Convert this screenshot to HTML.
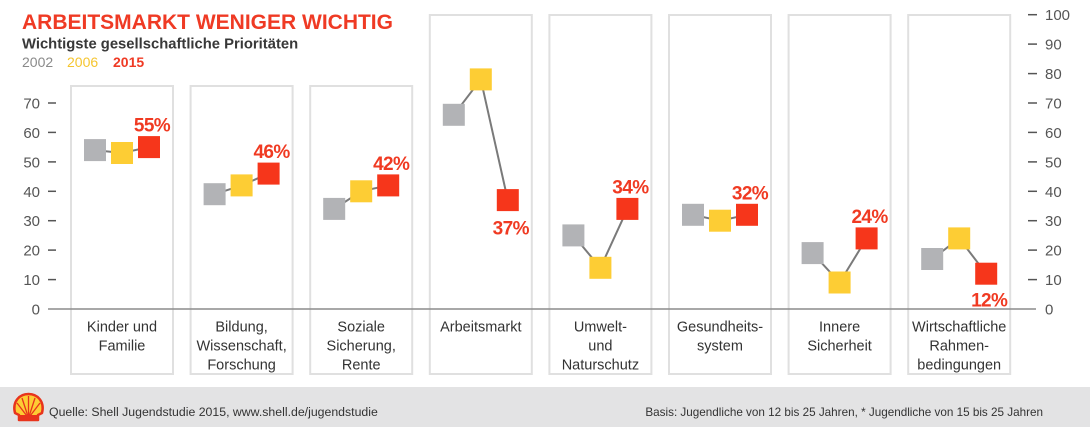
<!DOCTYPE html>
<html><head><meta charset="utf-8"><style>
html,body{margin:0;padding:0;background:#fff;}
svg{display:block;}
text{font-family:"Liberation Sans",sans-serif;}
</style></head><body>
<svg width="1090" height="427" viewBox="0 0 1090 427" xmlns="http://www.w3.org/2000/svg">
<rect x="0" y="0" width="1090" height="427" fill="#fff"/>
<!-- panels -->
<g fill="none" stroke="#e0e0e0" stroke-width="2">
<rect x="71" y="86" width="102" height="288"/>
<rect x="190.6" y="86" width="102" height="288"/>
<rect x="310.2" y="86" width="102" height="288"/>
<rect x="429.8" y="15" width="102" height="359"/>
<rect x="549.4" y="15" width="102" height="359"/>
<rect x="669" y="15" width="102" height="359"/>
<rect x="788.6" y="15" width="102" height="359"/>
<rect x="908.2" y="15" width="102" height="359"/>
</g>
<!-- title -->
<text x="22" y="29" font-size="21" font-weight="bold" fill="#ef3a24">ARBEITSMARKT WENIGER WICHTIG</text>
<text x="22" y="48.5" font-size="14.8" font-weight="bold" fill="#383838">Wichtigste gesellschaftliche Prioritäten</text>
<text x="22" y="67" font-size="14" fill="#8a8a8a">2002</text>
<text x="67" y="67" font-size="14" fill="#f5c52f">2006</text>
<text x="113" y="67" font-size="14" font-weight="bold" fill="#ef3a24">2015</text>
<!-- left axis -->
<g font-size="15" fill="#555" text-anchor="end">
<text x="40" y="314.5">0</text>
<text x="40" y="285.1">10</text>
<text x="40" y="255.6">20</text>
<text x="40" y="226.2">30</text>
<text x="40" y="196.8">40</text>
<text x="40" y="167.4">50</text>
<text x="40" y="137.9">60</text>
<text x="40" y="108.5">70</text>
</g>
<g stroke="#555" stroke-width="1.5">
<line x1="48" y1="279.6" x2="56" y2="279.6"/>
<line x1="48" y1="250.1" x2="56" y2="250.1"/>
<line x1="48" y1="220.7" x2="56" y2="220.7"/>
<line x1="48" y1="191.3" x2="56" y2="191.3"/>
<line x1="48" y1="161.9" x2="56" y2="161.9"/>
<line x1="48" y1="132.4" x2="56" y2="132.4"/>
<line x1="48" y1="103" x2="56" y2="103"/>
</g>
<!-- right axis -->
<g font-size="15" fill="#555">
<text x="1045" y="314.5">0</text>
<text x="1045" y="285.1">10</text>
<text x="1045" y="255.6">20</text>
<text x="1045" y="226.2">30</text>
<text x="1045" y="196.8">40</text>
<text x="1045" y="167.4">50</text>
<text x="1045" y="137.9">60</text>
<text x="1045" y="108.5">70</text>
<text x="1045" y="79.1">80</text>
<text x="1045" y="49.7">90</text>
<text x="1045" y="20.2">100</text>
</g>
<g stroke="#555" stroke-width="1.5">
<line x1="1028" y1="279.6" x2="1037" y2="279.6"/>
<line x1="1028" y1="250.1" x2="1037" y2="250.1"/>
<line x1="1028" y1="220.7" x2="1037" y2="220.7"/>
<line x1="1028" y1="191.3" x2="1037" y2="191.3"/>
<line x1="1028" y1="161.9" x2="1037" y2="161.9"/>
<line x1="1028" y1="132.4" x2="1037" y2="132.4"/>
<line x1="1028" y1="103" x2="1037" y2="103"/>
<line x1="1028" y1="73.6" x2="1037" y2="73.6"/>
<line x1="1028" y1="44.1" x2="1037" y2="44.1"/>
<line x1="1028" y1="14.7" x2="1037" y2="14.7"/>
</g>
<line x1="48" y1="309" x2="1036" y2="309" stroke="#8c8c8c" stroke-width="1.5"/>
<!-- connecting lines -->
<g fill="none" stroke="#7a7a7a" stroke-width="2">
<polyline points="95,150.1 122,153 149,147.1"/>
<polyline points="214.6,194.2 241.6,185.4 268.6,173.6"/>
<polyline points="334.2,208.9 361.2,191.3 388.2,185.4"/>
<polyline points="453.8,114.8 480.8,79.4 507.8,200.1"/>
<polyline points="573.4,235.4 600.4,267.8 627.4,208.9"/>
<polyline points="693,214.8 720,220.7 747,214.8"/>
<polyline points="812.6,253.1 839.6,282.5 866.6,238.4"/>
<polyline points="932.2,259 959.2,238.4 986.2,273.7"/>
</g>
<!-- markers -->
<g fill="#b2b3b6">
<rect x="84" y="139.1" width="22" height="22"/>
<rect x="203.6" y="183.2" width="22" height="22"/>
<rect x="323.2" y="197.9" width="22" height="22"/>
<rect x="442.8" y="103.8" width="22" height="22"/>
<rect x="562.4" y="224.4" width="22" height="22"/>
<rect x="682" y="203.8" width="22" height="22"/>
<rect x="801.6" y="242.1" width="22" height="22"/>
<rect x="921.2" y="248" width="22" height="22"/>
</g>
<g fill="#fdcd34">
<rect x="111" y="142" width="22" height="22"/>
<rect x="230.6" y="174.4" width="22" height="22"/>
<rect x="350.2" y="180.3" width="22" height="22"/>
<rect x="469.8" y="68.4" width="22" height="22"/>
<rect x="589.4" y="256.8" width="22" height="22"/>
<rect x="709" y="209.7" width="22" height="22"/>
<rect x="828.6" y="271.5" width="22" height="22"/>
<rect x="948.2" y="227.4" width="22" height="22"/>
</g>
<g fill="#f6361b">
<rect x="138" y="136.1" width="22" height="22"/>
<rect x="257.6" y="162.6" width="22" height="22"/>
<rect x="377.2" y="174.4" width="22" height="22"/>
<rect x="496.8" y="189.1" width="22" height="22"/>
<rect x="616.4" y="197.9" width="22" height="22"/>
<rect x="736" y="203.8" width="22" height="22"/>
<rect x="855.6" y="227.4" width="22" height="22"/>
<rect x="975.2" y="262.7" width="22" height="22"/>
</g>
<!-- value labels -->
<g font-size="19" font-weight="bold" fill="#f03a22" text-anchor="middle" letter-spacing="-0.6">
<text x="152" y="131.6">55%</text>
<text x="271.6" y="158.1">46%</text>
<text x="391.2" y="169.9">42%</text>
<text x="510.8" y="234.5">37%</text>
<text x="630.4" y="193.4">34%</text>
<text x="750" y="199.3">32%</text>
<text x="869.6" y="222.9">24%</text>
<text x="989.2" y="306.3">12%</text>
</g>
<!-- category labels -->
<g font-size="14.5" fill="#333" text-anchor="middle">
<text x="122" y="331.5">Kinder und</text>
<text x="122" y="350.5">Familie</text>
<text x="241.6" y="331.5">Bildung,</text>
<text x="241.6" y="350.5">Wissenschaft,</text>
<text x="241.6" y="369.5">Forschung</text>
<text x="361.2" y="331.5">Soziale</text>
<text x="361.2" y="350.5">Sicherung,</text>
<text x="361.2" y="369.5">Rente</text>
<text x="480.8" y="331.5">Arbeitsmarkt</text>
<text x="600.4" y="331.5">Umwelt-</text>
<text x="600.4" y="350.5">und</text>
<text x="600.4" y="369.5">Naturschutz</text>
<text x="720" y="331.5">Gesundheits-</text>
<text x="720" y="350.5">system</text>
<text x="839.6" y="331.5">Innere</text>
<text x="839.6" y="350.5">Sicherheit</text>
<text x="959.2" y="331.5">Wirtschaftliche</text>
<text x="959.2" y="350.5">Rahmen-</text>
<text x="959.2" y="369.5">bedingungen</text>
</g>
<!-- footer -->
<rect x="0" y="387" width="1090" height="40" fill="#e3e3e4"/>
<g>
<path d="M19,420 L19,415 L15,413 C12,401 20,394 28.5,394 C37,394 45,401 42,413 L38,415 L38,420 Z" fill="#fdcd34" stroke="#e8341c" stroke-width="2.5" stroke-linejoin="round"/>
<g stroke="#e8341c" stroke-width="1.3" fill="none">
<line x1="28.5" y1="418" x2="28.5" y2="396"/>
<line x1="28.5" y1="418" x2="22" y2="398"/>
<line x1="28.5" y1="418" x2="35" y2="398"/>
<line x1="28.5" y1="418" x2="17" y2="403"/>
<line x1="28.5" y1="418" x2="40" y2="403"/>
</g>
<rect x="19" y="415" width="19" height="5" fill="#e8341c"/>
</g>
<text x="49" y="416" font-size="12.3" fill="#333">Quelle: Shell Jugendstudie 2015, www.shell.de/jugendstudie</text>
<text x="1043" y="416" font-size="11.7" fill="#333" text-anchor="end">Basis: Jugendliche von 12 bis 25 Jahren, * Jugendliche von 15 bis 25 Jahren</text>
</svg>
</body></html>
